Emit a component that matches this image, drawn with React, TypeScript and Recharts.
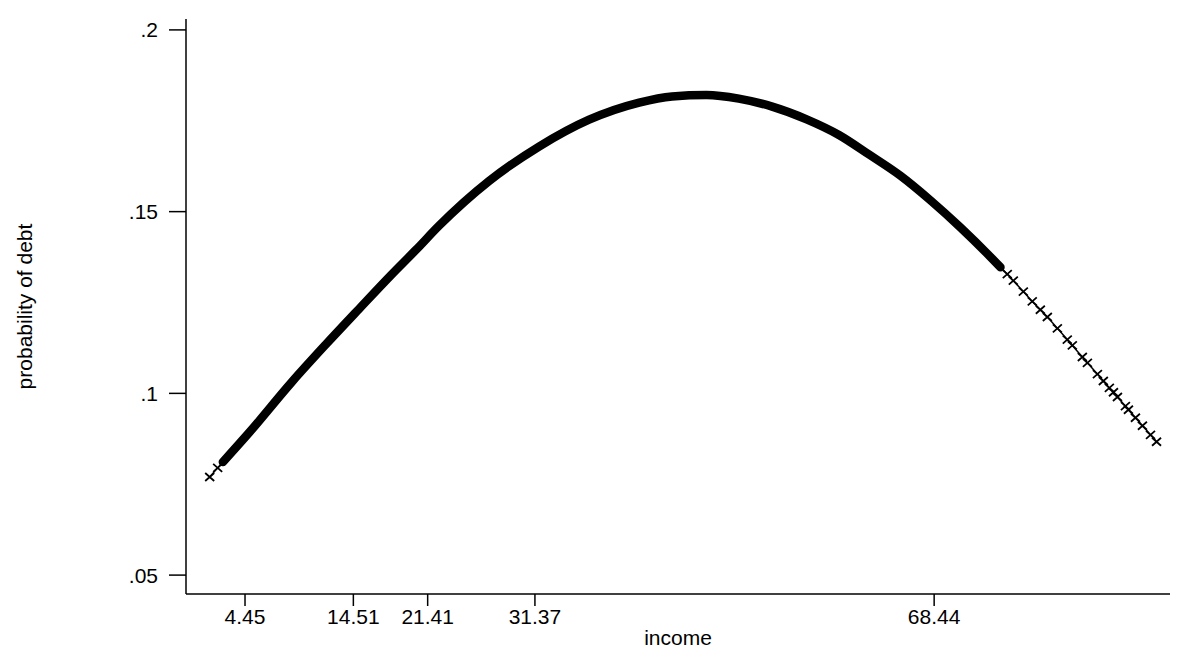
import React from 'react';
import { ComposedChart, Line, Scatter, XAxis, YAxis } from 'recharts';

// Dense part of the fitted curve (income, predicted probability of debt)
const bandIncome = [2.39, 4.89, 8.79, 12.0, 15.03, 18.0, 20.33, 22.46, 27.1, 31.75, 36.4, 41.05, 44.1, 47.3, 50.3, 53.4, 56.6, 59.6, 62.4, 65.3, 68.1, 70.9, 73.65, 74.6];
const bandProb = [0.0811, 0.0894, 0.1031, 0.1136, 0.1232, 0.1325, 0.1395, 0.1461, 0.1584, 0.1679, 0.1753, 0.18, 0.1817, 0.1821, 0.1811, 0.1789, 0.1754, 0.1711, 0.1657, 0.1599, 0.1531, 0.1456, 0.1376, 0.1347];

// Sparse individual observations at the ends of the income range
const markerIncome = [1.17, 1.91, 75.23, 75.79, 76.72, 77.55, 78.3, 78.95, 79.88, 80.8, 81.27, 82.2, 82.67, 83.6, 84.15, 84.71, 85.09, 85.46, 86.2, 86.48, 87.13, 87.78, 88.53, 89.09];
const markerProb = [0.077, 0.0795, 0.1328, 0.131, 0.128, 0.1253, 0.123, 0.121, 0.1179, 0.1148, 0.1132, 0.11, 0.1084, 0.1053, 0.1034, 0.1015, 0.1003, 0.099, 0.0965, 0.0955, 0.0933, 0.0911, 0.0886, 0.0867];

const xTicks = [4.45, 14.51, 21.41, 31.37, 68.44];
const yTicks = [0.05, 0.1, 0.15, 0.2];

const bandData = bandIncome.map((x, i) => ({ x, y: bandProb[i] }));
const markerData = markerIncome.map((x, i) => ({ x, y: markerProb[i] }));
const startLine = markerData.slice(0, 2).concat([bandData[0]]);
const tailLine = [bandData[bandData.length - 1]].concat(markerData.slice(2));

const FONT = "'Liberation Sans', Arial, Helvetica, sans-serif";

const XMark = (props: any) => {
  const { cx, cy } = props;
  if (cx == null || cy == null) return null;
  const dx = 4.5, dy = 4;
  return (
    <path
      d={`M${cx - dx},${cy - dy}L${cx + dx},${cy + dy}M${cx - dx},${cy + dy}L${cx + dx},${cy - dy}`}
      stroke="#000"
      strokeWidth={1.8}
      fill="none"
    />
  );
};

const YLabel = (props: any) => {
  const vb = props.viewBox || {};
  const cx = (vb.x ?? 0) + 24;
  const cy = (vb.y ?? 0) + (vb.height ?? 0) / 2;
  return (
    <text
      x={cx}
      y={cy}
      transform={`rotate(-90 ${cx} ${cy})`}
      textAnchor="middle"
      dominantBaseline="central"
      fontFamily={FONT}
      fontSize={21}
      fill="#000"
    >
      probability of debt
    </text>
  );
};

const XLabel = (props: any) => {
  const vb = props.viewBox || {};
  const cx = (vb.x ?? 0) + (vb.width ?? 0) / 2;
  const y = (vb.y ?? 0) + 51;
  return (
    <text x={cx} y={y} textAnchor="middle" fontFamily={FONT} fontSize={21} fill="#000">
      income
    </text>
  );
};

export default function App() {
  return (
    <div style={{ position: 'absolute', left: 0, top: 0, background: '#fff' }}>
      <ComposedChart
        width={1178}
        height={651}
        margin={{ top: 19, right: 8, bottom: 17, left: 0 }}
      >
        <XAxis
          type="number"
          dataKey="x"
          domain={[-1.03, 90.34]}
          allowDataOverflow
          ticks={xTicks}
          tickFormatter={(v: number) => v.toFixed(2)}
          height={40}
          tickSize={12}
          tickMargin={3}
          axisLine={{ stroke: '#000', strokeWidth: 1.5 }}
          tickLine={{ stroke: '#000', strokeWidth: 1.5 }}
          tick={{ fill: '#000', fontSize: 21, fontFamily: FONT }}
          label={<XLabel />}
        />
        <YAxis
          type="number"
          dataKey="y"
          domain={[0.0448, 0.203]}
          allowDataOverflow
          ticks={yTicks}
          tickFormatter={(v: number) => String(v).replace(/^0/, '')}
          width={186}
          tickSize={17}
          tickMargin={11}
          axisLine={{ stroke: '#000', strokeWidth: 1.5 }}
          tickLine={{ stroke: '#000', strokeWidth: 1.5 }}
          tick={{ fill: '#000', fontSize: 21, fontFamily: FONT }}
          label={<YLabel />}
        />
        <Line
          data={bandData}
          dataKey="y"
          type="monotone"
          stroke="#000"
          strokeWidth={8.5}
          strokeLinecap="round"
          dot={false}
          isAnimationActive={false}
        />
        <Line
          data={startLine}
          dataKey="y"
          type="linear"
          stroke="#000"
          strokeWidth={1.5}
          dot={false}
          isAnimationActive={false}
        />
        <Line
          data={tailLine}
          dataKey="y"
          type="monotone"
          stroke="#000"
          strokeWidth={1.5}
          dot={false}
          isAnimationActive={false}
        />
        <Scatter data={markerData} dataKey="y" shape={<XMark />} isAnimationActive={false} />
      </ComposedChart>
    </div>
  );
}
